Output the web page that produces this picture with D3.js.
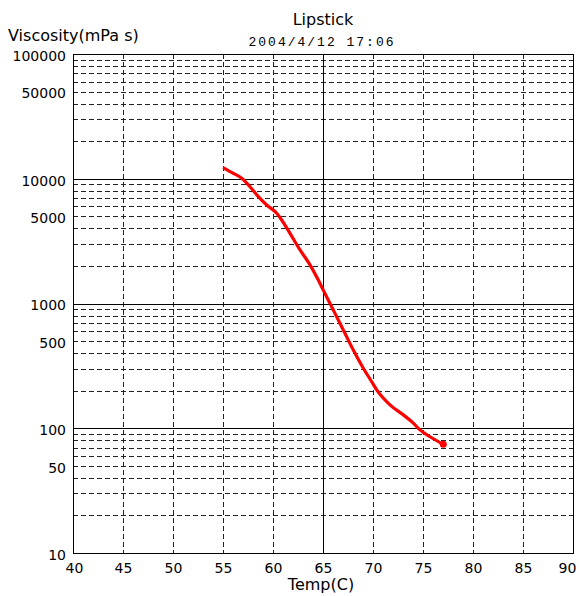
<!DOCTYPE html>
<html><head><meta charset="utf-8">
<script src="https://cdn.jsdelivr.net/npm/d3@7"></script>
<style>
body{margin:0;background:#fff;}
svg{display:block;}
text{font-family:"DejaVu Sans",sans-serif;fill:#000;}
</style></head>
<body>
<svg id="chart" width="579" height="596"></svg>
<script>
const temps = [55.13,56.03,56.87,57.7,58.53,59.37,60.37,60.87,61.7,62.7,63.7,64.53,65.03,66.03,67.03,68.03,69.03,69.87,70.37,71.7,73.03,74.03,74.7,75.7,77.03];
const viscosity = [12130,11060,10090,8630,7180,6160,5290,4670,3650,2690,2040,1540,1280,887,614,424,303,236,203,154,128,110,97,85.5,74.3];
const xTicks = [40,45,50,55,60,65,70,75,80,85,90];
const yTicks = [10,50,100,500,1000,5000,10000,50000,100000];
const decades = [100,1000,10000];
const title = "Lipstick";
const subtitle = "2004/4/12 17:06";
const xLabel = "Temp(C)";
const yLabel = "Viscosity(mPa s)";

const svg = d3.select("#chart");
const L = 73, R = 573, T = 54, B = 553;
const x = d3.scaleLinear().domain([40,90]).range([L,R]);
const y = d3.scaleLog().domain([10,100000]).range([B,T]);

// minor horizontal grid (2..9 x decade)
const minor = [];
for (let d = 10; d < 100000; d *= 10) for (let k = 2; k <= 9; k++) minor.push(d*k);
const g = svg.append("g");
g.selectAll("line.hm").data(minor).join("line")
  .attr("x1", L).attr("x2", R)
  .attr("y1", d => Math.round(y(d))+0.5).attr("y2", d => Math.round(y(d))+0.5)
  .attr("stroke","#222").attr("stroke-width",1).attr("stroke-dasharray","5,3");
// vertical dashed grid
g.selectAll("line.vm").data(xTicks.filter(v => v!==40 && v!==90 && v!==65)).join("line")
  .attr("y1", T).attr("y2", B)
  .attr("x1", d => Math.round(x(d))+0.5).attr("x2", d => Math.round(x(d))+0.5)
  .attr("stroke","#222").attr("stroke-width",1).attr("stroke-dasharray","5,3");
// solid decade lines
g.selectAll("line.hd").data(decades).join("line")
  .attr("x1", L).attr("x2", R)
  .attr("y1", d => Math.round(y(d))+0.5).attr("y2", d => Math.round(y(d))+0.5)
  .attr("stroke","#000").attr("stroke-width",1);
g.append("line").attr("y1",T).attr("y2",B)
  .attr("x1",Math.round(x(65))+0.5).attr("x2",Math.round(x(65))+0.5)
  .attr("stroke","#000").attr("stroke-width",1);
// border
g.append("rect").attr("x",L+0.5).attr("y",T+0.5).attr("width",R-L).attr("height",B-T)
  .attr("fill","none").attr("stroke","#000").attr("stroke-width",1);

// axes (labels only)
const yAxis = svg.append("g").attr("transform",`translate(${L},0)`)
  .call(d3.axisLeft(y).tickValues(yTicks).tickFormat(d3.format("d")).tickSize(0).tickPadding(7));
yAxis.select(".domain").remove();
yAxis.selectAll("text").style("font-size","14px").style("font-family","DejaVu Sans").attr("dy","0.45em");

const xAxis = svg.append("g").attr("transform",`translate(0,${B})`)
  .call(d3.axisBottom(x).tickValues(xTicks).tickSize(0).tickPadding(10));
xAxis.select(".domain").remove();
xAxis.selectAll("text").style("font-size","14px").style("font-family","DejaVu Sans")
  .attr("dx", d => d === 90 ? -6 : (d === 40 ? 1 : 0));

// curve
const data = temps.map((t,i)=>({t, v:viscosity[i]}));
svg.append("path").datum(data)
  .attr("d", d3.line().x(d=>x(d.t)).y(d=>y(d.v)).curve(d3.curveMonotoneX))
  .attr("fill","none").attr("stroke","#ff0000").attr("stroke-width",3.2)
  .attr("stroke-linejoin","round").attr("stroke-linecap","round");
const last = data[data.length-1];
svg.append("circle").attr("cx",x(last.t)).attr("cy",y(last.v)).attr("r",3.5).attr("fill","#ff0000");

// texts
svg.append("text").attr("x",323).attr("y",25).attr("text-anchor","middle")
  .style("font-size","16px").text(title);
svg.append("text").attr("x",322).attr("y",46).attr("text-anchor","middle")
  .style("font-family","'Liberation Mono',monospace").style("font-size","13px").style("letter-spacing","2px")
  .text(subtitle);
svg.append("text").attr("x",8).attr("y",41).style("font-size","16px").text(yLabel);
svg.append("text").attr("x",321).attr("y",590).attr("text-anchor","middle").style("font-size","16px").text(xLabel);
</script>
</body></html>
